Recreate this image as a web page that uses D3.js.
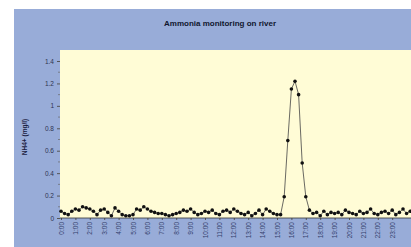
<!DOCTYPE html>
<html lang="en">
<head>
<meta charset="UTF-8">
<title>Ammonia monitoring on river</title>
<script src="https://d3js.org/d3.v7.min.js"></script>
<style>
  body { margin: 0; background: #fff; }
  svg { display: block; font-family: "Liberation Sans", Arial, sans-serif; }
</style>
</head>
<body>
<svg width="411" height="247"></svg>
<script>
// hourly category labels
var hourLabels = d3.range(0, 24).map(h => h + ':00');

// NH4+ readings every 15 minutes (mg/l), from 0:00
var baseA = [0.06,0.04,0.03,0.06,0.08,0.07,0.10,0.09,0.08,0.06,0.03,0.07,0.08,0.05,0.02,0.09,
             0.06,0.03,0.02,0.02,0.03,0.08,0.07,0.10,0.08,0.06,0.05,0.04,0.04,0.03,0.02,0.03];
var baseB = [0.04,0.05,0.07,0.06,0.08,0.05,0.03,0.04,0.06,0.05,0.07,0.04,0.03,0.06,0.07,0.05,
             0.08,0.06,0.04,0.03,0.05,0.02,0.04,0.07,0.03,0.08,0.06,0.04,0.03,0.03];
var peak  = [0.19,0.69,1.15,1.22,1.10,0.49,0.19,0.07];
var baseC = [0.04,0.05,0.02,0.06,0.03,0.05,0.04,0.05,0.03,0.07,0.05,0.04,0.03,0.06,0.04,0.05,
             0.08,0.04,0.03,0.05,0.06,0.04,0.07,0.03,0.05,0.08,0.04,0.06];
var ammonia = baseA.concat(baseB, peak, baseC);

var yTicks = [0, 0.2, 0.4, 0.6, 0.8, 1, 1.2, 1.4];

var svg = d3.select('svg');
var plot = { left: 60, top: 50, right: 425, bottom: 218 };

// panel background
svg.append('rect')
    .attr('x', 14).attr('y', 9)
    .attr('width', 420).attr('height', 260)
    .attr('fill', '#98acd8');

svg.append('rect')
    .attr('x', plot.left).attr('y', plot.top)
    .attr('width', plot.right - plot.left).attr('height', plot.bottom - plot.top)
    .attr('fill', '#fffcd6');

svg.append('text')
    .attr('x', 220).attr('y', 26)
    .attr('text-anchor', 'middle')
    .attr('font-size', 8)
    .attr('font-weight', 'bold')
    .attr('fill', '#10162e')
    .text('Ammonia monitoring on river');

// 15 min slot -> x ; 4 slots per hour
var xScale = d3.scaleLinear().domain([0, 24]).range([61, 61 + 24 * 14.4]);
var yScale = d3.scaleLinear().domain([0, 1.4]).range([plot.bottom, 61]);

var yAxis = d3.axisLeft(yScale)
    .tickValues(yTicks)
    .tickFormat(d => d3.format('~g')(d))
    .tickSize(3)
    .tickPadding(3);

var yAxisG = svg.append('g')
    .attr('transform', `translate(${plot.left},0)`)
    .call(yAxis);
yAxisG.select('.domain').remove();
yAxisG.selectAll('line').attr('stroke', '#555');
yAxisG.selectAll('text').attr('font-size', 6.5).attr('fill', '#2e3450');

// minor ticks
svg.append('g').selectAll('line')
    .data(d3.range(0.1, 1.4, 0.2))
    .enter().append('line')
    .attr('x1', plot.left - 2).attr('x2', plot.left)
    .attr('y1', d => yScale(d)).attr('y2', d => yScale(d))
    .attr('stroke', '#666').attr('stroke-width', 0.7);

svg.append('text')
    .attr('transform', `translate(27,137) rotate(-90)`)
    .attr('text-anchor', 'middle')
    .attr('font-size', 6.5)
    .attr('font-weight', 'bold')
    .attr('fill', '#1a2040')
    .text('NH4+ (mg/l)');

// x axis
var xAxis = d3.axisBottom(xScale)
    .tickValues(d3.range(0, 24))
    .tickFormat(i => hourLabels[i])
    .tickSize(2)
    .tickPadding(2);

var xAxisG = svg.append('g')
    .attr('transform', `translate(0,${plot.bottom})`)
    .call(xAxis);
xAxisG.select('.domain').remove();
xAxisG.selectAll('line').attr('stroke', '#555');
xAxisG.selectAll('text')
    .attr('font-size', 6.5)
    .attr('fill', '#34406c')
    .attr('text-anchor', 'end')
    .attr('transform', 'rotate(-90)')
    .attr('x', -4).attr('y', 0).attr('dy', '0.32em');

svg.append('line')
    .attr('x1', plot.left).attr('x2', 411)
    .attr('y1', plot.bottom).attr('y2', plot.bottom)
    .attr('stroke', '#333').attr('stroke-width', 0.8);

var line = d3.line()
    .x((d, i) => xScale(i / 4))
    .y(d => yScale(d));

svg.append('path')
    .datum(ammonia)
    .attr('fill', 'none')
    .attr('stroke', '#444')
    .attr('stroke-width', 0.8)
    .attr('d', line);

svg.append('g').selectAll('circle')
    .data(ammonia)
    .enter().append('circle')
    .attr('cx', (d, i) => xScale(i / 4))
    .attr('cy', d => yScale(d))
    .attr('r', 1.8)
    .attr('fill', '#111');
</script>
</body>
</html>
